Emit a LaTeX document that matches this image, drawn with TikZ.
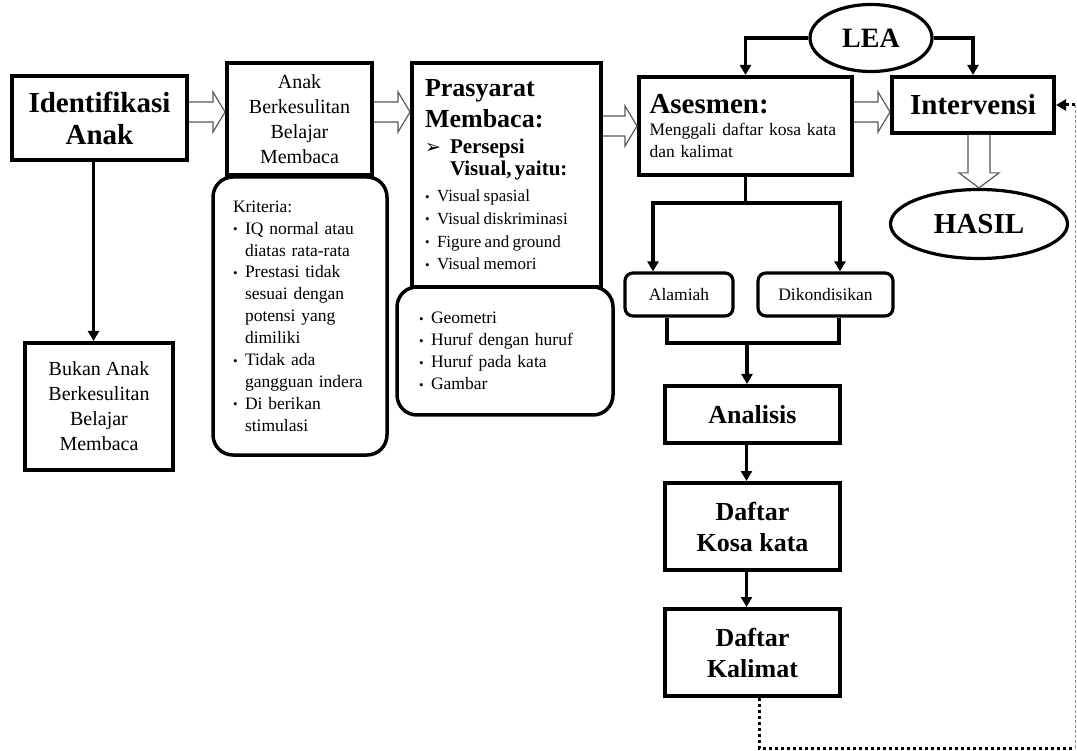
\documentclass[tikz,border=0pt]{standalone}
\usepackage{fontspec}
\setmainfont{Liberation Serif}
\newfontfamily\dejavu{DejaVu Sans}
\usetikzlibrary{shapes.geometric,arrows.meta,calc}
\setlength{\parindent}{0pt}
\newcommand\bl{\makebox[12pt][l]{\raisebox{0.5pt}{\fontsize{13}{13}\selectfont•}}}
\newcommand\ind{\makebox[12pt]{}}
\newcommand\blockR[3]{%
  \draw[blockarrow] ($(#1.east|-0,#3)+(0,-10)$) -- ($(#2.west|-0,#3)+(-12,-10)$) -- ($(#2.west|-0,#3)+(-12,-20)$) -- (#2.west|-0,#3) -- ($(#2.west|-0,#3)+(-12,20)$) -- ($(#2.west|-0,#3)+(-12,10)$) -- ($(#1.east|-0,#3)+(0,10)$);}
\tikzset{
  box/.style={draw, line width=4pt, inner sep=0pt, align=center},
  rbox/.style={box, line width=3.5pt, rounded corners=20pt},
  sbox/.style={box, line width=3.2pt, rounded corners=8pt},
  oval/.style={draw, ellipse, line width=3.2pt, inner sep=0pt},
  conn/.style={line width=3.2pt, -{Triangle[length=10pt,width=11pt]}},
  plain/.style={line width=3.2pt},
  blockarrow/.style={draw=black!65, fill=white, line width=1.2pt, line join=miter},
  dotline/.style={line width=3pt, dash pattern=on 3pt off 3pt},
  big/.style={font=\fontsize{29}{32}\selectfont\bfseries},
  mid/.style={font=\fontsize{26}{31}\selectfont\bfseries},
  norm/.style={font=\fontsize{20}{25}\selectfont},
  small/.style={font=\fontsize{17.5}{21.9}\selectfont}
}
\begin{document}
\begin{tikzpicture}[x=1pt,y=-1pt]
\useasboundingbox[fill=white] (0,0) rectangle (1077,751);

% nodes
\node[box, big, minimum width=175, minimum height=84] (id) at (99.5,118) {Identifikasi\\Anak};
\node[box, norm, minimum width=148, minimum height=127] (bukan) at (99,406.5) {Bukan Anak\\Berkesulitan\\Belajar\\Membaca};
\node[box, norm, minimum width=145, minimum height=112] (anak) at (299.5,119) {Anak\\Berkesulitan\\Belajar\\Membaca};
\node[rbox, small, align=left, text width=134, minimum width=174, minimum height=278] (krit) at (300,316) {Kriteria:\\
\bl IQ normal atau\\ \ind diatas rata-rata\\
\bl Prestasi tidak\\ \ind sesuai dengan\\ \ind potensi yang\\ \ind dimiliki\\
\bl Tidak ada\\ \ind gangguan indera\\
\bl Di berikan\\ \ind stimulasi};
\node[box, align=left, text width=163, minimum width=189, minimum height=224] (pras) at (506.5,175) {%
{\fontsize{26}{31}\selectfont\bfseries Prasyarat\\Membaca:\par}\vspace{4pt}
{\fontsize{21}{22}\selectfont\bfseries \makebox[25pt][l]{\dejavu\fontsize{19}{19}\selectfont ➢}Persepsi\\ \makebox[25pt]{}Visual, yaitu:\par}\vspace{3pt}
{\fontsize{17}{22.7}\selectfont \bl Visual spasial\\ \bl Visual diskriminasi\\ \bl Figure and ground\\ \bl Visual memori\par}};
\node[rbox, small, align=left, text width=172, minimum width=216, minimum height=128] (geo) at (505,351) {%
\bl Geometri\\ \bl Huruf dengan huruf\\ \bl Huruf pada kata\\ \bl Gambar};
\node[box, align=left, text width=192, font=\fontsize{17.5}{22}\selectfont, minimum width=213, minimum height=98] (ases) at (745.5,126) {%
{\fontsize{29}{32}\selectfont\bfseries Asesmen:\par}
Menggali daftar kosa kata\\dan kalimat};
\node[box, big, minimum width=162, minimum height=56] (interv) at (973,105) {Intervensi};
\node[oval, font=\fontsize{28}{30}\selectfont\bfseries, minimum width=122, minimum height=67] (lea) at (871,38) {LEA};
\node[oval, big, minimum width=177, minimum height=69] (hasil) at (979,224) {HASIL};
\node[sbox, small, minimum width=108, minimum height=43] (alam) at (679,294.5) {Alamiah};
\node[sbox, small, minimum width=135, minimum height=43] (dik) at (825.5,294.5) {Dikondisikan};
\node[box, mid, minimum width=175, minimum height=57] (ana) at (752.5,414.5) {Analisis};
\node[box, mid, minimum width=175, minimum height=87] (kosa) at (752.5,526.5) {Daftar\\Kosa kata};
\node[box, mid, minimum width=175, minimum height=87] (kal) at (752.5,652.5) {Daftar\\Kalimat};

% block arrows
\blockR{id}{anak}{112}
\blockR{anak}{pras}{112}
\blockR{pras}{ases}{126}
\blockR{ases}{interv}{112}
\draw[blockarrow] ($(interv.south -| hasil.north)+(-11,0)$) -- ($(hasil.north)+(-11,-15)$) -- ($(hasil.north)+(-20,-15)$) -- (hasil.north) -- ($(hasil.north)+(20,-15)$) -- ($(hasil.north)+(11,-15)$) -- ($(interv.south -| hasil.north)+(11,0)$);

% connectors
\draw[conn] ([xshift=-6pt]id.south) -- ([xshift=-6pt]id.south |- bukan.north);
\draw[conn] (lea.west) -| (ases.north);
\draw[conn] (lea.east) -| (interv.north);
\coordinate (split) at (745.5,203);
\draw[plain] (ases.south) -- (split);
\draw[conn] (split) -| ([xshift=-26pt]alam.north);
\draw[conn] (split) -| ([xshift=14.5pt]dik.north);
\coordinate (join) at (747,343);
\draw[plain, line join=miter] ([xshift=-12pt]alam.south) |- (join) -| ([xshift=13.5pt]dik.south);
\draw[conn] (join) -- (join |- ana.north);
\draw[conn] ([xshift=-6pt]ana.south) -- ([xshift=-6pt]kosa.north);
\draw[conn] ([xshift=-6pt]kosa.south) -- ([xshift=-6pt]kal.north);

% dotted feedback
\coordinate (c1) at (1075,748);
\coordinate (c2) at (1075,105);
\draw[dotline] ([xshift=6.5pt]kal.south) |- (c1);
\draw[black!45, line width=1pt, dash pattern=on 3pt off 2pt] (c1) -- (c2);
\draw[dotline, -{Triangle[length=10pt,width=11pt]}] (c2) -- (interv.east);
\end{tikzpicture}
\end{document}
